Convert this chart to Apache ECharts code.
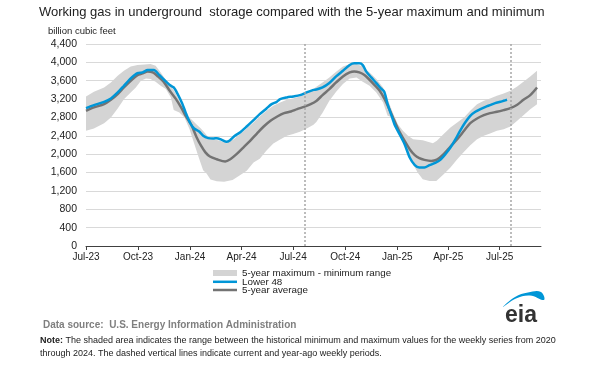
<!DOCTYPE html>
<html><head><meta charset="utf-8">
<script src="https://cdn.jsdelivr.net/npm/echarts@6/dist/echarts.min.js"></script>
<style>html,body{margin:0;padding:0;background:#fff}#c{width:600px;height:375px}</style>
</head><body><div id="c"></div>
<script>
const tickDates = ['2023-07-01','2023-10-01','2024-01-01','2024-04-01','2024-07-01','2024-10-01','2025-01-01','2025-04-01','2025-07-01'];
const tickLabels = ['Jul-23','Oct-23','Jan-24','Apr-24','Jul-24','Oct-24','Jan-25','Apr-25','Jul-25'];
const currentWeeks = ['2024-07-21','2025-07-20'];

const lower48 = [['2023-07-01',3003],['2023-07-15',3068],['2023-08-02',3141],['2023-08-14',3214],['2023-08-26',3345],['2023-09-06',3490],['2023-09-18',3650],['2023-09-30',3767],['2023-10-09',3781],['2023-10-18',3832],['2023-10-29',3832],['2023-11-07',3730],['2023-11-16',3621],['2023-11-26',3505],['2023-12-03',3454],['2023-12-10',3309],['2023-12-18',3105],['2023-12-24',2909],['2024-01-01',2680],['2024-01-08',2560],['2024-01-17',2495],['2024-01-24',2400],['2024-02-02',2349],['2024-02-11',2341],['2024-02-17',2349],['2024-02-26',2312],['2024-03-05',2269],['2024-03-11',2298],['2024-03-20',2400],['2024-03-29',2472],['2024-04-10',2603],['2024-04-22',2741],['2024-05-03',2872],['2024-05-15',2996],['2024-05-24',3090],['2024-06-02',3141],['2024-06-08',3199],['2024-06-20',3236],['2024-07-01',3258],['2024-07-13',3287],['2024-07-25',3345],['2024-08-06',3400],['2024-08-11',3410],['2024-08-22',3454],['2024-09-03',3550],['2024-09-15',3694],['2024-09-27',3818],['2024-10-09',3941],['2024-10-17',3978],['2024-10-26',3978],['2024-11-01',3941],['2024-11-07',3803],['2024-11-16',3672],['2024-11-25',3549],['2024-12-03',3432],['2024-12-09',3360],['2024-12-15',3090],['2024-12-21',2872],['2024-12-27',2654],['2025-01-05',2436],['2025-01-14',2218],['2025-01-23',1927],['2025-02-01',1760],['2025-02-09',1709],['2025-02-18',1709],['2025-02-27',1760],['2025-03-09',1810],['2025-03-18',1876],['2025-03-27',2000],['2025-04-05',2145],['2025-04-14',2327],['2025-04-22',2509],['2025-05-01',2690],['2025-05-10',2836],['2025-05-19',2923],['2025-05-28',2981],['2025-06-06',3032],['2025-06-14',3068],['2025-06-23',3112],['2025-07-02',3141],['2025-07-08',3163],['2025-07-14',3185]];

const avg5 = [['2023-07-01',2945],['2023-07-15',3018],['2023-08-02',3090],['2023-08-14',3185],['2023-08-26',3309],['2023-09-06',3454],['2023-09-18',3600],['2023-09-30',3723],['2023-10-09',3759],['2023-10-18',3803],['2023-10-27',3781],['2023-11-05',3694],['2023-11-16',3563],['2023-11-26',3381],['2023-12-07',3199],['2023-12-16',3018],['2023-12-24',2836],['2024-01-03',2640],['2024-01-12',2380],['2024-01-20',2190],['2024-01-28',2040],['2024-02-05',1949],['2024-02-17',1890],['2024-03-03',1840],['2024-03-12',1890],['2024-03-23',2000],['2024-04-04',2145],['2024-04-16',2290],['2024-04-28',2450],['2024-05-10',2603],['2024-05-22',2727],['2024-06-03',2821],['2024-06-15',2894],['2024-06-27',2930],['2024-07-08',2981],['2024-07-20',3030],['2024-08-01',3090],['2024-08-11',3160],['2024-08-22',3287],['2024-09-03',3418],['2024-09-15',3563],['2024-09-27',3694],['2024-10-09',3781],['2024-10-17',3803],['2024-10-26',3781],['2024-11-04',3723],['2024-11-13',3621],['2024-11-22',3505],['2024-12-01',3381],['2024-12-09',3214],['2024-12-18',2981],['2024-12-27',2727],['2025-01-05',2487],['2025-01-14',2290],['2025-01-23',2109],['2025-02-01',1978],['2025-02-09',1912],['2025-02-18',1876],['2025-03-02',1854],['2025-03-12',1880],['2025-03-24',2000],['2025-04-05',2167],['2025-04-17',2327],['2025-04-29',2509],['2025-05-10',2676],['2025-05-22',2778],['2025-06-03',2850],['2025-06-14',2894],['2025-06-26',2923],['2025-07-08',2960],['2025-07-20',3003],['2025-08-01',3076],['2025-08-12',3185],['2025-08-24',3287],['2025-09-05',3454]];

const max5 = [['2023-07-01',3258],['2023-07-15',3360],['2023-08-02',3454],['2023-08-14',3563],['2023-08-26',3709],['2023-09-06',3818],['2023-09-18',3912],['2023-09-30',3941],['2023-10-12',3956],['2023-10-23',3963],['2023-11-01',3927],['2023-11-10',3781],['2023-11-19',3621],['2023-11-28',3490],['2023-12-07',3309],['2023-12-16',3090],['2023-12-24',2872],['2024-01-03',2763],['2024-01-12',2654],['2024-01-20',2560],['2024-01-26',2480],['2024-01-31',2400],['2024-02-11',2327],['2024-02-23',2290],['2024-03-05',2240],['2024-03-18',2327],['2024-03-29',2436],['2024-04-10',2560],['2024-04-22',2690],['2024-05-03',2821],['2024-05-15',2945],['2024-05-27',3054],['2024-06-08',3127],['2024-06-20',3185],['2024-07-01',3214],['2024-07-13',3258],['2024-07-25',3330],['2024-08-06',3418],['2024-08-11',3470],['2024-08-22',3563],['2024-09-03',3672],['2024-09-15',3796],['2024-09-27',3912],['2024-10-09',3963],['2024-10-21',3963],['2024-11-01',3912],['2024-11-13',3781],['2024-11-25',3636],['2024-12-07',3454],['2024-12-15',3199],['2024-12-24',2909],['2025-01-02',2654],['2025-01-11',2509],['2025-01-20',2400],['2025-01-29',2327],['2025-02-06',2312],['2025-02-15',2305],['2025-02-24',2269],['2025-03-05',2240],['2025-03-12',2290],['2025-03-24',2440],['2025-04-05',2581],['2025-04-17',2690],['2025-04-29',2800],['2025-05-10',2945],['2025-05-22',3090],['2025-06-03',3163],['2025-06-14',3214],['2025-06-26',3272],['2025-07-08',3323],['2025-07-20',3381],['2025-08-01',3476],['2025-08-12',3578],['2025-08-24',3694],['2025-09-05',3818]];

const min5 = [['2023-07-01',2509],['2023-07-15',2560],['2023-08-02',2676],['2023-08-14',2800],['2023-08-26',2996],['2023-09-06',3199],['2023-09-18',3345],['2023-09-27',3454],['2023-10-06',3600],['2023-10-15',3650],['2023-10-23',3636],['2023-11-01',3578],['2023-11-10',3490],['2023-11-19',3418],['2023-11-28',3236],['2023-12-03',2960],['2023-12-13',2909],['2023-12-22',2800],['2023-12-31',2545],['2024-01-09',2200],['2024-01-17',1900],['2024-01-24',1650],['2024-01-30',1580],['2024-02-06',1450],['2024-02-17',1410],['2024-03-01',1400],['2024-03-16',1440],['2024-03-29',1540],['2024-04-10',1640],['2024-04-22',1820],['2024-05-03',1900],['2024-05-15',2080],['2024-05-27',2230],['2024-06-08',2320],['2024-06-20',2400],['2024-07-01',2440],['2024-07-13',2490],['2024-07-25',2560],['2024-08-06',2640],['2024-08-11',2700],['2024-08-22',2900],['2024-09-03',3163],['2024-09-15',3360],['2024-09-27',3527],['2024-10-09',3650],['2024-10-21',3672],['2024-11-01',3578],['2024-11-13',3490],['2024-11-25',3345],['2024-12-07',3127],['2024-12-15',2836],['2024-12-24',2800],['2025-01-02',2581],['2025-01-11',2327],['2025-01-20',2036],['2025-01-29',1781],['2025-02-06',1600],['2025-02-15',1454],['2025-02-27',1418],['2025-03-11',1418],['2025-03-24',1563],['2025-04-05',1709],['2025-04-17',1890],['2025-04-29',2051],['2025-05-10',2196],['2025-05-22',2327],['2025-06-03',2400],['2025-06-14',2450],['2025-06-26',2509],['2025-07-08',2545],['2025-07-20',2603],['2025-08-01',2727],['2025-08-12',2850],['2025-08-24',2981],['2025-09-05',3090]];

const FONT = '"Liberation Sans", Arial, sans-serif';
const ts = s => echarts.number.parseDate(s).getTime();
const tickTs = tickDates.map(ts);
const chart = echarts.init(document.getElementById('c'), null, {renderer: 'canvas'});

chart.setOption({
  animation: false,
  backgroundColor: '#fff',
  textStyle: {fontFamily: FONT},
  title: {
    text: 'Working gas in underground  storage compared with the 5-year maximum and minimum',
    left: 39, top: 6, padding: 0,
    textStyle: {fontFamily: FONT, fontSize: 13, fontWeight: 'normal', color: '#222'}
  },
  grid: {left: 86, right: 59, top: 44, height: 202},
  xAxis: {
    type: 'value',
    min: ts('2023-07-01'), max: ts('2025-09-12'),
    axisLine: {lineStyle: {color: '#404040', width: 1}},
    axisTick: {show: true, customValues: tickTs, length: 4, lineStyle: {color: '#404040'}},
    axisLabel: {
      customValues: tickTs, color: '#222', fontSize: 10, fontFamily: FONT, margin: 6.5,
      formatter: v => { const i = tickTs.indexOf(v); return i >= 0 ? tickLabels[i] : ''; }
    },
    splitLine: {show: false}
  },
  yAxis: {
    type: 'value', min: 0, max: 4400, interval: 400,
    name: 'billion cubic feet', nameLocation: 'end', nameGap: 8,
    nameTextStyle: {align: 'left', padding: [0, 0, 0, -38], fontSize: 9.5, color: '#222', fontFamily: FONT},
    axisLine: {show: false}, axisTick: {show: false},
    axisLabel: {color: '#222', fontSize: 10.5, fontFamily: FONT, margin: 9,
      formatter: v => v.toLocaleString('en-US')},
    splitLine: {lineStyle: {color: '#d9d9d9', width: 1}}
  },
  legend: [
    {left: 213, top: 268, orient: 'vertical', itemWidth: 24, itemHeight: 6, padding: 0,
     textStyle: {fontSize: 9.8, color: '#222', fontFamily: FONT}, data: [{name: '5-year maximum - minimum range', icon: 'rect'}]},
    {left: 213, top: 276.8, orient: 'vertical', itemWidth: 24, itemHeight: 2.5, padding: 0,
     textStyle: {fontSize: 9.8, color: '#222', fontFamily: FONT}, data: [{name: 'Lower 48', icon: 'rect'}]},
    {left: 213, top: 285, orient: 'vertical', itemWidth: 24, itemHeight: 2.5, padding: 0,
     textStyle: {fontSize: 9.8, color: '#222', fontFamily: FONT}, data: [{name: '5-year average', icon: 'rect'}]}
  ],
  series: [
    {
      name: '5-year maximum - minimum range', type: 'custom', clip: true,
      itemStyle: {color: '#d4d4d4'},
      data: [[ts('2023-07-01'), 0]],
      renderItem: (params, api) => {
        const pts = max5.map(p => api.coord([ts(p[0]), p[1]]))
          .concat(min5.slice().reverse().map(p => api.coord([ts(p[0]), p[1]])));
        return {type: 'polygon', shape: {points: pts}, style: {fill: '#d4d4d4'}};
      },
      z: 1
    },
    {
      name: '5-year average', type: 'line', data: avg5.map(p => [ts(p[0]), p[1]]),
      showSymbol: false, smooth: 0.3, itemStyle: {color: '#737373'},
      lineStyle: {color: '#737373', width: 2.5}, z: 3
    },
    {
      name: 'Lower 48', type: 'line', data: lower48.map(p => [ts(p[0]), p[1]]),
      showSymbol: false, smooth: 0.25, itemStyle: {color: '#0096d7'},
      lineStyle: {color: '#0096d7', width: 2.5}, z: 4,
      markLine: {
        silent: true, symbol: 'none', label: {show: false},
        lineStyle: {type: [2, 2], color: '#a6a6a6', width: 1.5},
        data: currentWeeks.map(d => ({xAxis: ts(d)}))
      }
    }
  ],
  graphic: [
    {type: 'text', x: 43, y: 320, style: {text: 'Data source:  U.S. Energy Information Administration', fill: '#7f7f7f', font: 'bold 10px ' + FONT}},
    {type: 'text', x: 40, y: 334, style: {
      text: '{b|Note:} The shaded area indicates the range between the historical minimum and maximum values for the weekly series from 2020\nthrough 2024. The dashed vertical lines indicate current and year-ago weekly periods.',
      fill: '#222', font: '9px ' + FONT, lineHeight: 13,
      rich: {b: {fontWeight: 'bold', fontSize: 9, fontFamily: FONT, fill: '#222'}}}},
    {type: 'text', x: 505, y: 304, style: {text: 'eia', fill: '#333', font: 'bold 23px ' + FONT}},
    {type: 'polygon', shape: {points: [[503,307],[515,297],[528,292.5],[541,292],[544,300],[530,295.5],[516,298.5]], smooth: 0.4}, style: {fill: '#0096d7'}}
  ]
});
</script></body></html>
